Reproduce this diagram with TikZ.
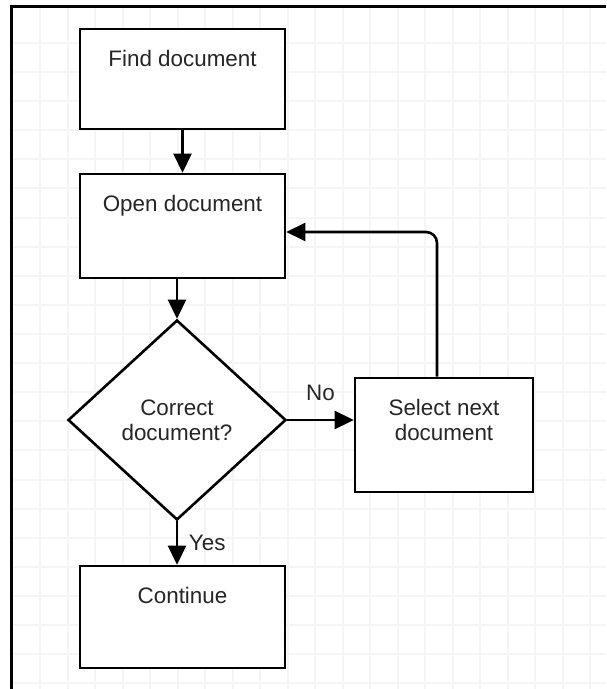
\documentclass[tikz,border=0pt]{standalone}
\usepackage{fontspec}
\setmainfont{Liberation Sans}
\usetikzlibrary{shapes.geometric,arrows.meta}

\begin{document}
\begin{tikzpicture}[x=0.5pt,y=-0.5pt,
    font=\fontsize{11.2}{12.5}\selectfont,
    line width=1.3pt,
    box/.style={draw,fill=white,minimum width=102.5pt,minimum height=50pt,inner sep=0pt},
    boxtext/.style={label={[anchor=north,inner sep=0pt,yshift=-10.5pt,align=center,text=black!85]north:#1}},
    decision/.style={draw,fill=white,diamond,aspect=1.09,minimum width=109pt,minimum height=100pt,inner sep=0pt,align=center,text=black!85},
    flow/.style={-{Triangle[length=9.5pt,width=9pt]}},
    gridline/.style={black!4,line width=1pt}]
    \useasboundingbox (0,0) rectangle (606,689);
    \foreach \x in {1,...,21} \draw[gridline] (12.5+27.5*\x,7) -- (12.5+27.5*\x,689);
    \foreach \y in {1,...,23} \draw[gridline] (11,13.9+29.1*\y) -- (606,13.9+29.1*\y);
    \draw[line width=1.5pt] (11,689) -- (11,7) -- (606,7);

    \node[box,boxtext=Find document] (find) at (182.5,79) {};
    \node[box,boxtext=Open document,minimum height=52pt] (open) at (182.5,226) {};
    \node[decision] (check) at (177,420) {Correct\\document?};
    \node[box,boxtext={Select next\\document},minimum width=89pt,minimum height=57pt] (next) at (444,435) {};
    \node[box,boxtext=Continue,minimum height=51pt] (cont) at (182.5,617) {};

    \draw[flow] (find) -- (open);
    \draw[flow] (open.south -| check.north) -- (check.north);
    \draw[flow] (check.east) -- (check.east -| next.west) node[midway,above=5.5pt,text=black!85] {No};
    \draw[flow] (check.south) -- (check.south |- cont.north) node[midway,right=2pt,text=black!85] {Yes};
    \draw[flow,rounded corners=5.5pt] ([xshift=-3.5pt]next.north) |- ([yshift=-3pt]open.east);
\end{tikzpicture}
\end{document}
